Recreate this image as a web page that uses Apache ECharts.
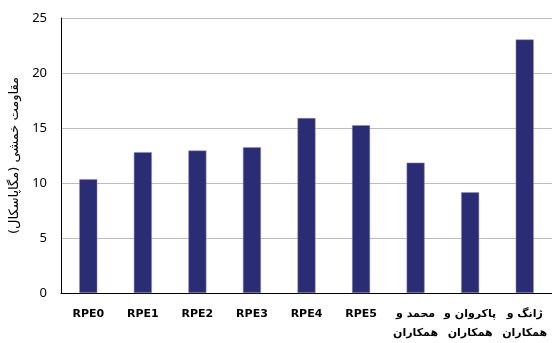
<!DOCTYPE html>
<html>
<head>
<meta charset="utf-8">
<script src="https://cdn.jsdelivr.net/npm/echarts@6/dist/echarts.min.js"></script>
<style>
  html, body { margin: 0; padding: 0; background: #fff; }
  #chart { width: 552px; height: 343px; }
</style>
</head>
<body>
<div id="chart"></div>
<script>
// categories and values
const categories = ['RPE0', 'RPE1', 'RPE2', 'RPE3', 'RPE4', 'RPE5', 'محمد و\nهمکاران', 'پاکروان و\nهمکاران', 'ژانگ و\nهمکاران']
const strength = [10.35, 12.8, 12.95, 13.25, 15.9, 15.25, 11.85, 9.15, 23.05]
const yTicks = [0, 5, 10, 15, 20, 25]

const chart = echarts.init(document.getElementById('chart'))

const option = {
  animation: false,
  grid: { left: 61, right: -3, top: 18, bottom: 50 },
  xAxis: {
    type: 'category',
    data: categories,
    axisLine: { lineStyle: { color: '#000', width: 1 } },
    axisTick: { show: false },
    axisLabel: {
      color: '#000',
      fontSize: 11,
      fontWeight: 'bold',
      fontFamily: 'DejaVu Sans, sans-serif',
      margin: 12,
      lineHeight: 19,
      interval: 0
    }
  },
  yAxis: {
    type: 'value',
    min: yTicks[0],
    max: yTicks[yTicks.length - 1],
    interval: 5,
    name: 'مقاومت خمشی (مگاپاسکال)',
    nameLocation: 'middle',
    nameGap: 37,
    nameRotate: 90,
    nameTextStyle: { color: '#000', fontSize: 13, fontFamily: 'DejaVu Sans, sans-serif' },
    axisLine: { show: true, lineStyle: { color: '#000', width: 1 } },
    axisTick: { show: false },
    axisLabel: { color: '#000', fontSize: 13, margin: 14, fontFamily: 'Noto Sans, sans-serif' },
    splitLine: { lineStyle: { color: '#bdbdbd', width: 1 } }
  },
  series: [
    {
      type: 'bar',
      data: strength,
      barWidth: 18,
      itemStyle: { color: '#2a2d74', borderColor: '#8a8fc0', borderWidth: 0.5 }
    }
  ]
}

chart.setOption(option)
</script>
</body>
</html>
